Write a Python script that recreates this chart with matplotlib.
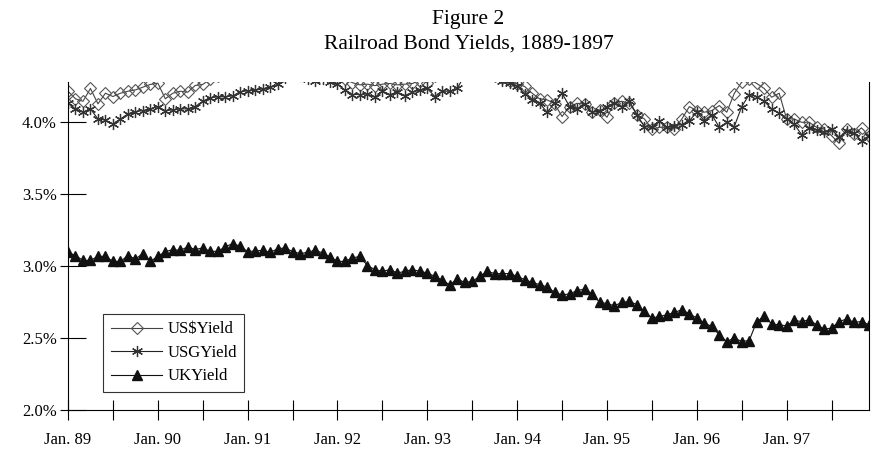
import matplotlib.pyplot as plt
import numpy as np

# monthly yields, Jan 1889 .. Dec 1897 (values above the axis top are clipped in the original too)
us_dollar_yield = [
    4.216, 4.163, 4.146, 4.235, 4.128, 4.202, 4.179, 4.202, 4.216, 4.225, 4.244, 4.263,
    4.272, 4.163, 4.202, 4.216, 4.209, 4.256, 4.263, 4.300, 4.320, 4.350, 4.380, 4.400,
    4.420, 4.400, 4.380, 4.400, 4.420, 4.450, 4.430, 4.400, 4.380, 4.360, 4.350, 4.330,
    4.310, 4.300, 4.275, 4.260, 4.265, 4.255, 4.265, 4.270, 4.260, 4.265, 4.270, 4.290,
    4.275, 4.320, 4.350, 4.380, 4.400, 4.420, 4.400, 4.380, 4.350, 4.320, 4.310, 4.285,
    4.267, 4.249, 4.202, 4.163, 4.156, 4.128, 4.040, 4.109, 4.132, 4.128, 4.070, 4.086,
    4.035, 4.137, 4.146, 4.132, 4.053, 4.023, 3.953, 3.965, 3.965, 3.953, 4.023, 4.109,
    4.081, 4.070, 4.081, 4.116, 4.070, 4.200, 4.280, 4.300, 4.270, 4.235, 4.174, 4.202,
    4.023, 4.023, 4.000, 4.000, 3.965, 3.953, 3.907, 3.854, 3.953, 3.919, 3.961, 3.907,
]
usg_yield = [
    4.132, 4.093, 4.070, 4.093, 4.023, 4.016, 3.988, 4.023, 4.058, 4.074, 4.081, 4.093,
    4.109, 4.081, 4.086, 4.093, 4.093, 4.109, 4.146, 4.171, 4.176, 4.178, 4.183, 4.213,
    4.218, 4.223, 4.232, 4.244, 4.263, 4.310, 4.330, 4.320, 4.300, 4.288, 4.300, 4.279,
    4.263, 4.225, 4.193, 4.193, 4.197, 4.174, 4.216, 4.193, 4.209, 4.186, 4.209, 4.225,
    4.235, 4.179, 4.216, 4.216, 4.235, 4.330, 4.360, 4.380, 4.350, 4.320, 4.290, 4.270,
    4.250, 4.200, 4.156, 4.132, 4.070, 4.132, 4.202, 4.109, 4.093, 4.128, 4.070, 4.077,
    4.109, 4.137, 4.109, 4.146, 4.053, 3.970, 3.965, 4.011, 3.965, 3.977, 3.984, 4.011,
    4.070, 4.011, 4.053, 3.965, 4.000, 3.970, 4.109, 4.193, 4.179, 4.146, 4.093, 4.063,
    4.023, 3.988, 3.914, 3.961, 3.947, 3.930, 3.953, 3.895, 3.942, 3.923, 3.872, 3.907,
]
uk_yield = [
    3.096, 3.073, 3.040, 3.040, 3.068, 3.068, 3.033, 3.033, 3.073, 3.050, 3.087, 3.033,
    3.068, 3.101, 3.115, 3.110, 3.134, 3.115, 3.127, 3.103, 3.103, 3.134, 3.157, 3.138,
    3.101, 3.106, 3.110, 3.096, 3.120, 3.127, 3.101, 3.087, 3.096, 3.110, 3.092, 3.064,
    3.033, 3.033, 3.057, 3.068, 3.003, 2.976, 2.964, 2.976, 2.952, 2.964, 2.976, 2.964,
    2.952, 2.929, 2.901, 2.871, 2.910, 2.887, 2.894, 2.929, 2.964, 2.948, 2.948, 2.948,
    2.929, 2.906, 2.887, 2.871, 2.855, 2.818, 2.799, 2.808, 2.829, 2.841, 2.806, 2.750,
    2.739, 2.725, 2.748, 2.755, 2.732, 2.685, 2.639, 2.650, 2.662, 2.678, 2.697, 2.669,
    2.639, 2.604, 2.581, 2.523, 2.476, 2.500, 2.476, 2.483, 2.615, 2.650, 2.599, 2.592,
    2.585, 2.623, 2.615, 2.627, 2.592, 2.562, 2.569, 2.615, 2.632, 2.609, 2.615, 2.592,
]
year_labels = ['Jan. 89', 'Jan. 90', 'Jan. 91', 'Jan. 92', 'Jan. 93',
               'Jan. 94', 'Jan. 95', 'Jan. 96', 'Jan. 97']
y_ticks = [2.0, 2.5, 3.0, 3.5, 4.0]

months = np.arange(len(uk_yield))

plt.rcParams['font.family'] = ['Liberation Serif', 'DejaVu Serif']

fig = plt.figure(figsize=(8.72, 4.53), dpi=100)
ax = fig.add_axes([68 / 872, 43 / 453, 801 / 872, 328 / 453])

ax.plot(months, us_dollar_yield, color='#444444', lw=0.8, marker='D', ms=6,
        mfc='none', mec='#555555', mew=0.8, label='US$Yield')
ax.plot(months, usg_yield, color='#222222', lw=0.8, marker=(6, 2, 0), ms=8,
        mec='#333333', mew=0.9, label='USGYield')
ax.plot(months, uk_yield, color='#111111', lw=0.8, marker='^', ms=7,
        mfc='#111111', mec='#111111', label='UKYield')

ax.set_xlim(0, len(uk_yield) - 1)
ax.set_ylim(2.0, 4.28)

# x: labelled tick every January, plain tick every July
ax.set_xticks(months[::12][:len(year_labels)])
ax.set_xticklabels(year_labels, fontsize=12)
ax.set_xticks(months[6::12], minor=True)
ax.tick_params(axis='x', which='both', direction='inout', length=14, width=0.8, pad=9)

# y: ticks reach further inside than outside
ax.set_yticks(y_ticks)
ax.set_yticklabels(['%.1f%%' % v for v in y_ticks], fontsize=12)
ax.set_yticks(y_ticks, minor=True)
ax.yaxis.remove_overlapping_locs = False
ax.tick_params(axis='y', which='major', direction='in', length=13, width=0.8, pad=8)
ax.tick_params(axis='y', which='minor', direction='out', length=6, width=0.8)

ax.spines['top'].set_visible(False)
for s in ['left', 'bottom', 'right']:
    ax.spines[s].set_linewidth(0.8)

ax.set_title('Figure 2\nRailroad Bond Yields, 1889-1897', fontsize=15.5, pad=24,
             linespacing=1.4)

leg = ax.legend(loc='lower left', bbox_to_anchor=(0.044, 0.055), borderaxespad=0,
                fancybox=False, framealpha=1, edgecolor='#333333', fontsize=12,
                handlelength=3.1, handletextpad=0.3, labelspacing=0.45,
                borderpad=0.45)
leg.get_frame().set_linewidth(0.8)

plt.savefig('out.png', dpi=100)
